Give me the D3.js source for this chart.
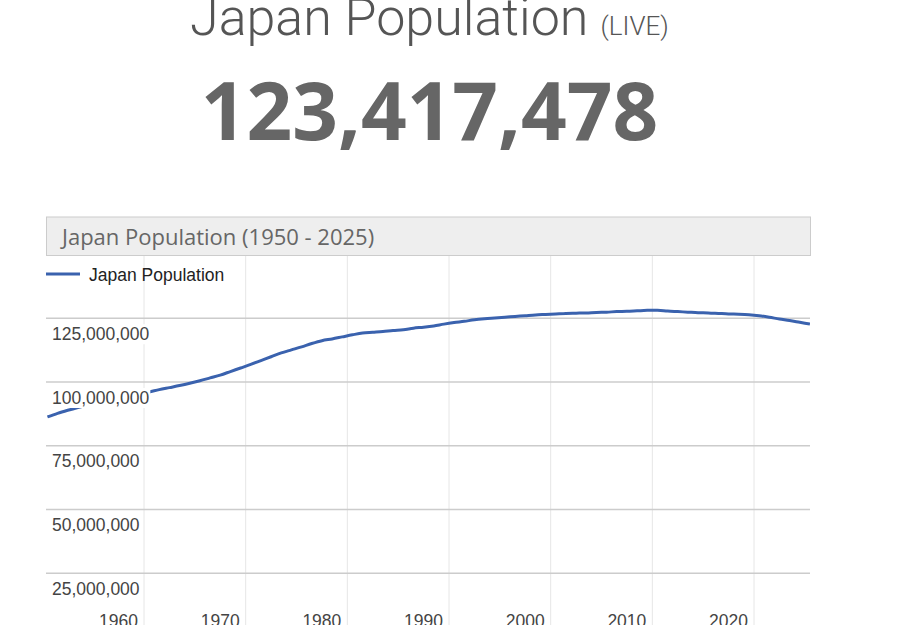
<!DOCTYPE html>
<html>
<head>
<meta charset="utf-8">
<script src="https://cdn.jsdelivr.net/npm/d3@7"></script>
<style>
  body { margin: 0; background: #fff; }
</style>
</head>
<body>
<div id="chart"></div>
<script>
// chart data (population in millions)
var years = [1950,1951,1952,1953,1954,1955,1956,1957,1958,1959,
             1960,1961,1962,1963,1964,1965,1966,1967,1968,1969,
             1970,1971,1972,1973,1974,1975,1976,1977,1978,1979,
             1980,1981,1982,1983,1984,1985,1986,1987,1988,1989,
             1990,1991,1992,1993,1994,1995,1996,1997,1998,1999,
             2000,2001,2002,2003,2004,2005,2006,2007,2008,2009,
             2010,2011,2012,2013,2014,2015,2016,2017,2018,2019,
             2020,2021,2022,2023,2024,2025];
var population = [86.3,87.7,88.9,90.0,91.0,91.9,92.7,93.6,94.4,95.3,
                  96.1,97.0,97.8,98.6,99.5,100.5,101.6,102.7,104.1,105.5,
                  106.9,108.4,109.9,111.4,112.6,113.8,115.1,116.2,116.9,117.7,
                  118.5,119.2,119.5,119.8,120.2,120.5,121.1,121.5,122.0,122.7,
                  123.3,123.8,124.4,124.8,125.1,125.4,125.7,126.0,126.3,126.5,
                  126.7,126.9,127.0,127.1,127.3,127.4,127.6,127.7,127.9,128.1,
                  128.1,127.8,127.6,127.4,127.2,127.1,126.9,126.7,126.6,126.4,
                  126.0,125.4,124.7,124.1,123.4,122.7];
var xTicks = [1960,1970,1980,1990,2000,2010,2020];
var yTicks = [25,50,75,100,125];
var yTickLabels = ["25,000,000","50,000,000","75,000,000","100,000,000","125,000,000"];
var seriesName = "Japan Population";
var liveCount = "123,417,478";

var W = 900, H = 625;
var plotLeft = 46, plotRight = 810, plotTop = 256;

var svg = d3.select("#chart").append("svg").attr("width", W).attr("height", H);

// headline
var head = svg.append("text").attr("x", 190).attr("y", 35)
  .style("font-family", "Roboto").style("font-weight", 300)
  .style("font-size", "52px").style("fill", "#555");
head.append("tspan").text("Japan Population");
head.append("tspan").attr("dx", 12).style("font-size", "26px").text("(LIVE)");

svg.append("text").attr("x", 429.5).attr("y", 140)
  .attr("text-anchor", "middle")
  .style("font-family", "Open Sans").style("font-weight", 700)
  .style("font-size", "80px").style("fill", "#666")
  .text(liveCount);

// scales (values are mid-year estimates, so each point sits half a year in)
var x = d3.scaleLinear().domain([1960, 2020]).range([144, 754]);
var y = d3.scaleLinear().domain([0, 125]).range([637, 318.25]);

// grid
svg.append("g").selectAll("line").data(xTicks).enter().append("line")
  .attr("x1", function(d) { return x(d); }).attr("x2", function(d) { return x(d); })
  .attr("y1", plotTop).attr("y2", H)
  .style("stroke", "#e6e6e6").style("stroke-width", 1);
svg.append("g").selectAll("line").data(yTicks).enter().append("line")
  .attr("x1", plotLeft).attr("x2", plotRight)
  .attr("y1", function(d) { return y(d); }).attr("y2", function(d) { return y(d); })
  .style("stroke", "#cccccc").style("stroke-width", 1.5);

// title bar
svg.append("rect").attr("x", 46.5).attr("y", 217).attr("width", 764).attr("height", 38.5)
  .style("fill", "#eeeeee").style("stroke", "#cccccc");
svg.append("text").attr("x", 62).attr("y", 245)
  .style("font-family", "Open Sans").style("font-size", "22px").style("fill", "#666")
  .text("Japan Population (1950 - 2025)");

// line
svg.append("clipPath").attr("id", "clip").append("rect")
  .attr("x", plotLeft).attr("y", plotTop).attr("width", plotRight - plotLeft).attr("height", H - plotTop);
var line = d3.line()
  .curve(d3.curveMonotoneX)
  .x(function(d, i) { return x(years[i] + 0.5); })
  .y(function(d) { return y(d); });
svg.append("path").datum(population)
  .attr("clip-path", "url(#clip)")
  .attr("d", line)
  .style("fill", "none").style("stroke", "#3a62ae").style("stroke-width", 3);

// y labels sit on a white box, above the line
var yl = svg.append("g").selectAll("g").data(yTicks).enter().append("g");
var yRects = yl.append("rect").style("fill", "#fff");
var yTexts = yl.append("text").attr("x", 52).attr("y", function(d) { return y(d) + 21.5; })
  .style("font-family", "Liberation Sans, Arial").style("font-size", "17.5px").style("fill", "#444")
  .text(function(d, i) { return yTickLabels[i]; });
yTexts.each(function(d, i) {
  var w = this.getComputedTextLength();
  d3.select(yRects.nodes()[i])
    .attr("x", 51).attr("y", y(d) + 6).attr("width", w + 2).attr("height", 20);
});

// x labels
svg.append("g").selectAll("text").data(xTicks).enter().append("text")
  .attr("x", function(d) { return x(d) - 6; }).attr("y", 627)
  .attr("text-anchor", "end")
  .style("font-family", "Liberation Sans, Arial").style("font-size", "17.5px").style("fill", "#444")
  .text(function(d) { return d; });

// legend
svg.append("line").attr("x1", 46).attr("x2", 80).attr("y1", 274).attr("y2", 274)
  .style("stroke", "#3a62ae").style("stroke-width", 3);
svg.append("text").attr("x", 89).attr("y", 281)
  .style("font-family", "Liberation Sans, Arial").style("font-size", "17.5px").style("fill", "#222")
  .text(seriesName);
</script>
</body>
</html>
